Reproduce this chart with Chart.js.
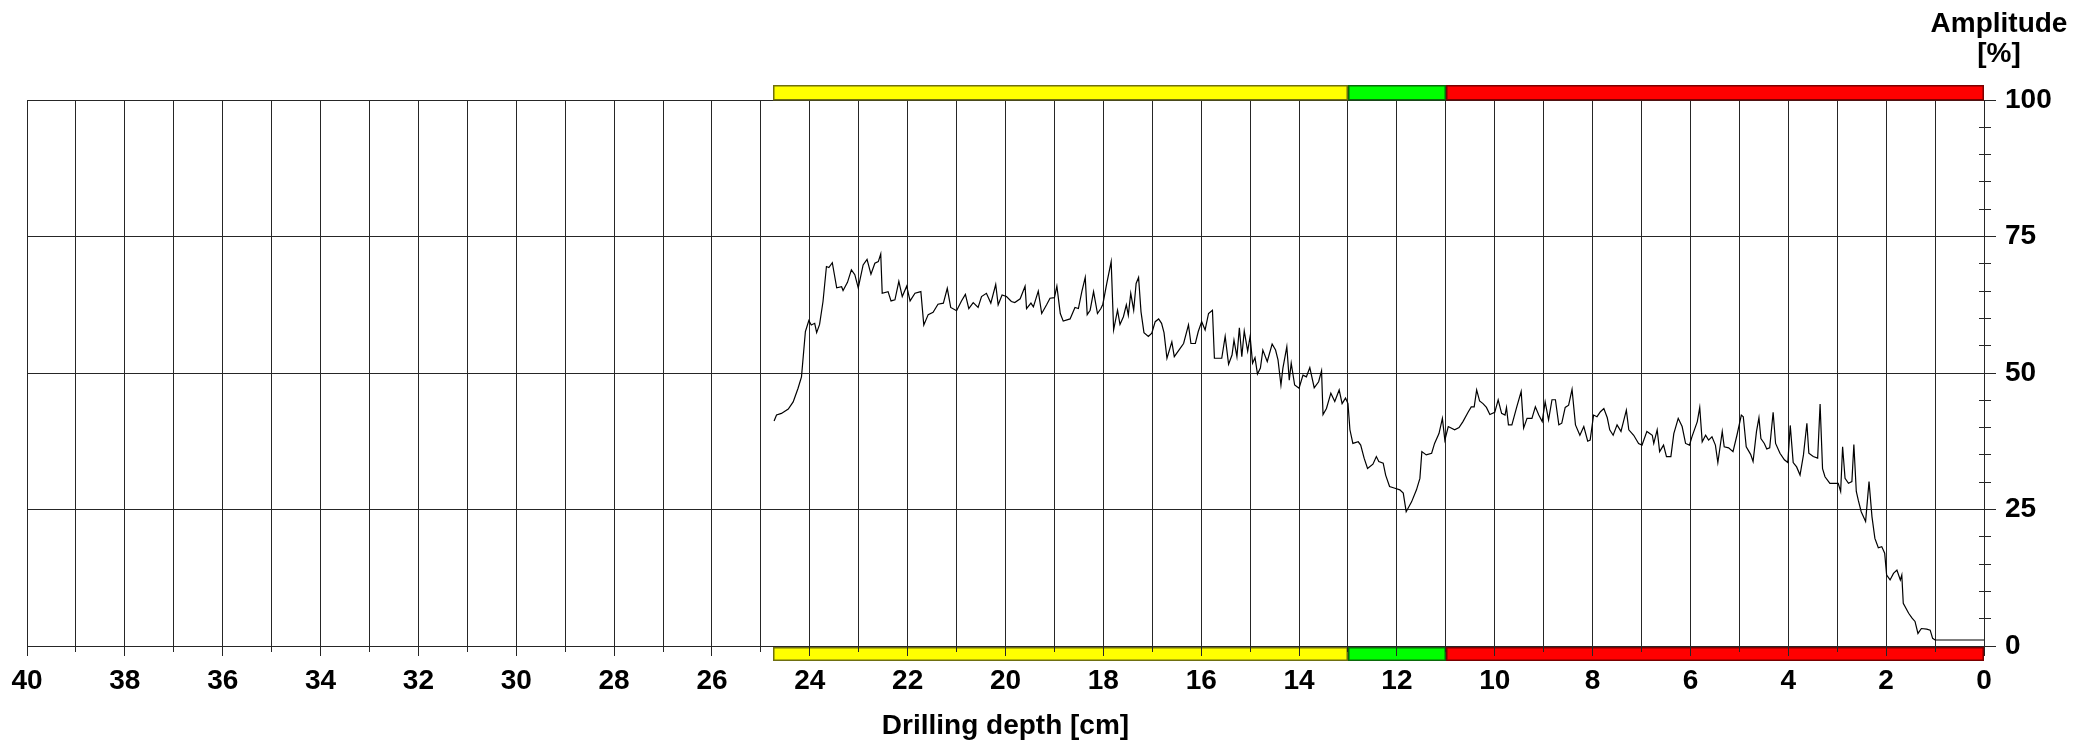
<!DOCTYPE html>
<html>
<head>
<meta charset="utf-8">
<script src="https://cdn.jsdelivr.net/npm/chart.js@4"></script>
<style>
  html, body { margin: 0; padding: 0; background: #ffffff; }
  canvas { display: block; }
</style>
</head>
<body>
<canvas id="c" width="2094" height="742"></canvas>
<script>
// ---- data ----
const depthCm = [
  24.73,24.68,24.58,24.44,24.34,24.24,24.17,24.09,24.02,23.97,23.90,23.86,23.80,23.73,23.66,23.61,23.54,23.45,23.35,23.32,
  23.23,23.15,23.08,23.01,22.91,22.83,22.75,22.67,22.60,22.55,22.52,22.40,22.34,22.26,22.18,22.11,22.02,21.95,21.85,21.73,
  21.67,21.58,21.48,21.38,21.27,21.19,21.12,21.00,20.90,20.82,20.75,20.66,20.56,20.49,20.39,20.30,20.20,20.15,20.07,19.98,
  19.88,19.81,
  19.70,19.60,19.57,19.48,19.43,19.33,19.26,19.16,19.09,19.00,18.95,18.88,18.82,18.68,18.58,18.51,18.44,18.37,18.33,18.27,
  18.20,18.12,18.05,18.01,17.93,17.84,17.79,17.71,17.66,17.59,17.53,17.49,17.44,17.38,17.33,17.28,17.23,17.17,17.08,17.01,
  16.94,16.87,16.81,16.76,16.70,16.60,16.55,16.43,16.36,16.26,16.21,16.12,16.06,15.99,15.92,15.85,15.77,15.73,15.58,15.51,
  15.44,15.37,15.33,15.27,15.22,15.17,15.12,15.05,15.00,14.95,14.90,14.85,14.79,
  14.74,14.65,14.55,14.48,14.43,14.37,14.33,14.25,14.20,14.16,14.09,14.00,13.92,13.85,13.78,13.69,13.60,13.54,13.51,13.44,
  13.35,13.27,13.18,13.12,13.05,13.00,12.96,12.90,12.79,12.74,12.67,12.60,12.49,12.42,12.37,12.28,12.23,12.15,12.04,11.94,
  11.87,11.81,11.70,11.60,11.53,11.49,11.40,11.29,11.23,11.14,11.07,11.02,10.95,10.82,10.73,10.65,10.54,10.48,10.42,10.37,
  10.31,10.24,10.17,10.10,10.00,9.93,9.86,9.79,
  9.76,9.72,9.65,9.55,9.46,9.41,9.34,9.24,9.17,9.10,9.03,8.97,8.90,8.83,8.76,8.69,8.63,8.56,8.49,8.42,
  8.35,8.26,8.18,8.10,8.05,7.98,7.91,7.84,7.77,7.70,7.65,7.58,7.50,7.42,7.31,7.26,7.16,7.06,6.99,6.89,
  6.78,6.75,6.68,6.63,6.55,6.49,6.40,6.34,6.25,6.17,6.10,6.02,5.97,5.86,5.81,5.76,5.69,5.63,5.56,5.49,
  5.44,5.35,5.31,5.22,5.13,5.05,4.96,4.92,4.86,4.77,
  4.72,4.65,4.60,4.56,4.49,4.44,4.38,4.31,4.26,4.17,4.08,4.01,3.96,3.90,3.83,3.76,3.69,3.62,3.58,3.49,
  3.40,3.35,3.30,3.25,3.15,3.04,2.98,2.93,2.89,2.84,2.77,2.70,2.66,2.61,2.57,2.51,2.42,2.35,2.29,2.23,
  2.16,2.09,2.03,1.99,1.92,1.85,1.78,1.71,1.68,1.65,1.54,1.47,1.41,1.35,1.28,1.17,1.10,1.05,1.00,0.00
];
const amplitudePct = [
  41.2,42.3,42.6,43.4,44.7,47.2,49.3,57.6,59.6,58.8,59.1,57.4,58.9,63.1,69.5,69.3,70.2,65.6,65.8,65.1,
  66.6,68.9,68.0,65.6,69.8,70.8,68.1,70.1,70.4,71.8,64.6,64.9,63.2,63.4,66.8,64.0,65.9,63.2,64.6,64.9,
  58.8,60.7,61.1,62.6,62.8,65.5,62.0,61.4,63.2,64.4,61.8,62.9,62.0,64.0,64.6,62.8,66.2,62.5,64.3,64.0,
  63.1,62.9,
  63.6,65.9,61.8,62.8,62.1,65.0,60.9,62.5,63.7,63.8,65.9,60.9,59.5,59.9,62.0,61.8,64.9,67.5,60.7,61.5,
  64.9,60.9,61.8,62.6,66.4,70.4,57.9,61.5,58.9,60.3,62.5,60.6,64.6,61.5,66.4,67.5,61.2,57.4,56.7,57.3,
  59.4,59.9,59.1,57.4,52.7,55.7,53.0,54.5,55.4,58.8,55.4,55.4,57.6,59.4,57.9,60.9,61.5,52.7,52.7,56.7,
  51.6,53.3,56.0,53.0,58.3,53.0,57.7,54.0,56.7,51.8,52.8,49.8,50.9,
  54.2,52.1,55.3,54.2,52.4,47.8,50.9,54.8,48.7,51.8,47.8,47.2,49.6,49.3,51.0,47.3,48.4,50.4,42.4,43.5,
  46.3,44.8,46.9,44.4,45.4,44.4,39.6,37.1,37.4,36.8,34.4,32.5,33.3,34.7,33.8,33.5,31.3,29.2,28.9,28.6,
  28.0,24.6,26.4,28.6,30.7,35.6,35.0,35.3,37.1,38.9,41.7,37.7,40.2,39.6,40.0,41.1,42.9,43.8,43.8,46.9,
  44.9,44.4,43.7,42.4,42.8,45.1,42.6,42.3,
  43.7,40.5,40.5,43.8,46.6,39.9,41.7,41.7,43.8,42.3,41.1,44.7,41.4,45.1,45.1,40.5,40.8,43.7,44.1,47.0,
  40.5,38.6,40.2,37.5,37.7,42.3,42.0,42.9,43.5,41.8,39.6,38.6,40.5,39.3,43.2,39.6,38.6,37.1,36.8,39.3,
  38.6,37.1,39.6,35.6,36.8,34.7,34.7,38.9,41.7,40.2,37.1,36.8,38.3,41.1,43.7,37.4,38.6,37.7,38.3,36.8,
  33.6,39.3,36.5,36.3,35.6,38.6,42.3,42.0,36.5,35.1,
  33.8,39.3,41.8,38.0,37.1,36.1,36.3,42.8,37.1,35.3,34.1,33.6,40.4,33.6,32.8,31.3,35.0,40.8,35.3,34.7,
  34.4,44.3,32.5,31.0,29.8,29.8,29.8,28.3,36.5,30.7,29.8,30.1,36.9,28.3,26.7,24.6,22.8,30.1,23.7,19.7,
  18.0,18.2,17.0,13.0,12.1,13.3,13.9,12.1,13.0,7.8,6.0,5.1,4.5,2.3,3.2,3.1,2.9,1.4,1.1,1.1
];

// evaluation zones along the drilling path (cm)
const zoneStart = [24.75, 13.0, 11.0];
const zoneEnd   = [13.0, 11.0, 0.0];
const zoneColor = ['#ffff00', '#00ff00', '#ff0000'];
const zoneEdge  = ['#6f6f10', '#0a6a0a', '#7a0000'];

// axis ranges / texts
const depthMin = 0, depthMax = 40;
const ampMin = 0, ampMax = 100;
const xTitle = 'Drilling depth [cm]';
const yTitleLines = ['Amplitude', '[%]'];

// ---- chart ----
const FONT = '"Liberation Sans", Arial, Helvetica, sans-serif';
const GRID = '#262626';

function alignPx(p) { return Math.round(p - 0.5) + 0.5; }

const decor = {
  id: 'decor',
  afterDraw(chart) {
    const { ctx, chartArea: ca, scales } = chart;
    const x = scales.x, y = scales.y;
    ctx.save();
    // zone bars above and below the plot
    zoneStart.forEach((s, i) => {
      const p1 = x.getPixelForValue(s), p2 = x.getPixelForValue(zoneEnd[i]);
      const L = Math.round(Math.min(p1, p2)), R = Math.round(Math.max(p1, p2));
      ctx.fillStyle = zoneColor[i];
      ctx.fillRect(L, ca.top - 15, R - L, 15);
      ctx.fillRect(L, ca.bottom + 1, R - L, 14);
      ctx.strokeStyle = zoneEdge[i];
      ctx.lineWidth = 1.5;
      ctx.strokeRect(L + 0.75, ca.top - 14.25, R - L - 1.5, 14);
      ctx.strokeRect(L + 0.75, ca.bottom + 1.75, R - L - 1.5, 12.5);
    });
    // x tick marks below the plot (longer at labelled ticks)
    ctx.strokeStyle = GRID;
    ctx.lineWidth = 1;
    x.ticks.forEach(t => {
      const px = alignPx(x.getPixelForValue(t.value));
      const len = (t.value % 2 === 0) ? 10 : 6;
      ctx.beginPath();
      ctx.moveTo(px, ca.bottom);
      ctx.lineTo(px, ca.bottom + len);
      ctx.stroke();
    });
    // right axis tick marks (minor ticks cross the axis)
    y.ticks.forEach(t => {
      const py = alignPx(y.getPixelForValue(t.value));
      ctx.beginPath();
      if (t.value % 25 === 0) {
        ctx.moveTo(ca.right, py);
        ctx.lineTo(ca.right + 12, py);
      } else {
        ctx.moveTo(ca.right - 5, py);
        ctx.lineTo(ca.right + 7, py);
      }
      ctx.stroke();
    });
    // amplitude axis title
    ctx.fillStyle = '#000';
    ctx.font = 'bold 28px ' + FONT;
    ctx.textAlign = 'center';
    ctx.textBaseline = 'alphabetic';
    ctx.fillText(yTitleLines[0], ca.right + 15, 32);
    ctx.fillText(yTitleLines[1], ca.right + 15, 62);
    ctx.restore();
  }
};

const points = depthCm.map((d, i) => ({ x: d, y: amplitudePct[i] }));

new Chart(document.getElementById('c'), {
  type: 'line',
  data: {
    datasets: [{
      data: points,
      borderColor: '#000000',
      borderWidth: 1.2,
      pointRadius: 0,
      tension: 0,
      fill: false
    }]
  },
  options: {
    responsive: false,
    animation: false,
    devicePixelRatio: 1,
    layout: { padding: { top: 100, left: 27, right: 0, bottom: 0 } },
    plugins: { legend: { display: false }, tooltip: { enabled: false }, title: { display: false } },
    scales: {
      x: {
        type: 'linear',
        reverse: true,
        min: depthMin,
        max: depthMax,
        afterFit(s) { s.height = 96; s.paddingLeft = 0; s.paddingRight = 0; },
        grid: { color: GRID, lineWidth: 1, drawTicks: false },
        border: { color: GRID, width: 1 },
        ticks: {
          stepSize: 1,
          autoSkip: false,
          maxRotation: 0,
          padding: 18.5,
          color: '#000',
          font: { family: FONT, size: 28, weight: 'bold' },
          callback: v => (v % 2 === 0 ? String(v) : '')
        },
        title: {
          display: true,
          text: xTitle,
          color: '#000',
          font: { family: FONT, size: 28, weight: 'bold' },
          padding: { top: 0, bottom: -1.5 }
        }
      },
      y: {
        type: 'linear',
        position: 'right',
        min: ampMin,
        max: ampMax,
        afterFit(s) { s.width = 110; s.paddingTop = 0; s.paddingBottom = 0; },
        grid: {
          color: c => (c.tick && c.tick.value % 25 === 0 ? GRID : 'rgba(0,0,0,0)'),
          lineWidth: 1,
          drawTicks: false
        },
        border: { color: GRID, width: 1 },
        ticks: {
          stepSize: 5,
          autoSkip: false,
          padding: 21,
          color: '#000',
          font: { family: FONT, size: 28, weight: 'bold' },
          callback: v => (v % 25 === 0 ? String(v) : '')
        }
      }
    }
  },
  plugins: [decor]
});
</script>
</body>
</html>
